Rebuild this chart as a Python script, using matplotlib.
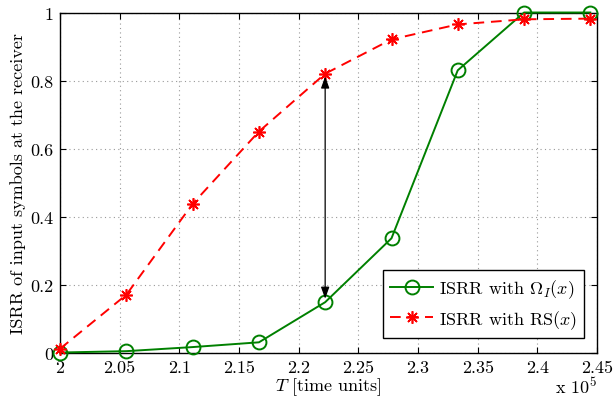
import matplotlib
matplotlib.use("Agg")
import matplotlib.pyplot as plt

plt.rcParams['font.family'] = ['cmr10', 'DejaVu Serif']
plt.rcParams['mathtext.fontset'] = 'cm'
plt.rcParams['axes.formatter.use_mathtext'] = True

T = [2.0, 2.0556, 2.1111, 2.1667, 2.2222, 2.2778, 2.3333, 2.3889, 2.4444]
isrr_omega = [0.0, 0.004, 0.016, 0.030, 0.148, 0.336, 0.830, 1.0, 1.0]
isrr_rs = [0.011, 0.170, 0.437, 0.650, 0.820, 0.921, 0.965, 0.980, 0.982]
xticks = [2.0, 2.05, 2.1, 2.15, 2.2, 2.25, 2.3, 2.35, 2.4, 2.45]
xtick_labels = ['2', '2.05', '2.1', '2.15', '2.2', '2.25', '2.3', '2.35', '2.4', '2.45']
yticks = [0, 0.2, 0.4, 0.6, 0.8, 1.0]
ytick_labels = ['0', '0.2', '0.4', '0.6', '0.8', '1']
arrow_x = 2.2222
arrow_top = 0.812
arrow_bottom = 0.158

FS = 13

fig = plt.figure(figsize=(6.15, 4.02), dpi=100)
ax = fig.add_axes([0.0976, 0.1206, 0.8731, 0.8458])

ax.plot(T, isrr_omega, color='#008000', lw=1.4, marker='o', ms=10,
        mfc='none', mec='#008000', mew=1.4, label=r'ISRR with $\Omega_I(x)$',
        zorder=3, clip_on=False)
ax.plot(T, isrr_rs, color='#ff0000', lw=1.4, ls=(0, (5.5, 3.5)), marker=(8, 2, 0), ms=9,
        mec='#ff0000', mew=1.2, label=r'ISRR with RS$(x)$', zorder=3, clip_on=False)

ax.annotate('', xy=(arrow_x, arrow_top), xytext=(arrow_x, arrow_bottom),
            arrowprops=dict(arrowstyle='<|-|>,head_length=0.7,head_width=0.25',
                            color='black', lw=0.9, shrinkA=0, shrinkB=0), zorder=4)

ax.set_xlim(2.0, 2.45)
ax.set_ylim(0, 1)
ax.set_xticks(xticks)
ax.set_xticklabels(xtick_labels)
ax.set_yticks(yticks)
ax.set_yticklabels(ytick_labels)
ax.tick_params(direction='in', top=True, right=True, labelsize=FS, length=4, pad=5)
ax.grid(True, ls=(0, (1, 3)), color='#999999', lw=0.8)
for s in ax.spines.values():
    s.set_linewidth(1.0)

ax.set_xlabel(r'$T$ [time units]', fontsize=FS, labelpad=0)
ax.set_ylabel('ISRR of input symbols at the receiver', fontsize=FS, labelpad=3)
fig.text(0.971, 0.012, r'x 10$^5$', ha='right', va='bottom', fontsize=FS)

leg = ax.legend(loc='lower right', bbox_to_anchor=(0.976, 0.043), fontsize=FS,
                fancybox=False, edgecolor='black', framealpha=1, handlelength=2.4,
                borderpad=0.4, labelspacing=0.45, handletextpad=0.3,
                borderaxespad=0)
leg.get_frame().set_linewidth(1.0)

fig.savefig('out.png', dpi=100)
